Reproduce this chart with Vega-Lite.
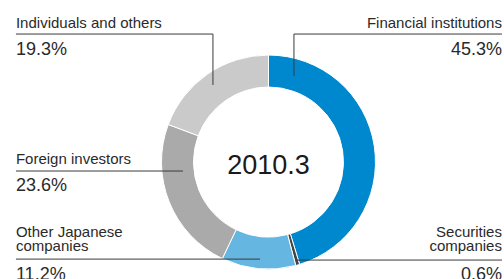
{
  "$schema": "https://vega.github.io/schema/vega-lite/v6.json",
  "width": 504,
  "height": 279,
  "autosize": {"type": "none"},
  "padding": 0,
  "background": "white",
  "config": {"view": {"stroke": null}},
  "datasets": {
    "slices": [
      {"category": "Financial institutions", "share": 45.3, "order": 1},
      {"category": "Securities companies", "share": 0.6, "order": 2},
      {"category": "Other Japanese companies", "share": 11.2, "order": 3},
      {"category": "Foreign investors", "share": 23.6, "order": 4},
      {"category": "Individuals and others", "share": 19.3, "order": 5}
    ],
    "leaders": [
      {"g": 1, "o": 1, "x": -236, "y": 119.6},
      {"g": 1, "o": 2, "x": -51.9, "y": 119.6},
      {"g": 1, "o": 3, "x": -51.9, "y": 72.0},
      {"g": 2, "o": 1, "x": 23.8, "y": 80.4},
      {"g": 2, "o": 2, "x": 23.8, "y": 119.6},
      {"g": 2, "o": 3, "x": 218.2, "y": 119.6},
      {"g": 3, "o": 1, "x": -236, "y": -8.4},
      {"g": 3, "o": 2, "x": -79.9, "y": -8.4},
      {"g": 4, "o": 1, "x": -236, "y": -90.7},
      {"g": 4, "o": 2, "x": -7.9, "y": -90.7},
      {"g": 5, "o": 1, "x": 26.6, "y": -91.6},
      {"g": 5, "o": 2, "x": 218.2, "y": -91.6}
    ],
    "labels": [
      {"text": ["Individuals and others"], "kind": "name", "x": -236, "y": 125.2, "align": "left"},
      {"text": ["19.3%"], "kind": "pct", "x": -236, "y": 100.0, "align": "left"},
      {"text": ["Financial institutions"], "kind": "name", "x": 218.2, "y": 125.2, "align": "right"},
      {"text": ["45.3%"], "kind": "pct", "x": 218.2, "y": 100.0, "align": "right"},
      {"text": ["Foreign investors"], "kind": "name", "x": -236, "y": -1.9, "align": "left"},
      {"text": ["23.6%"], "kind": "pct", "x": -236, "y": -27.1, "align": "left"},
      {"text": ["Other Japanese", "companies"], "kind": "name", "x": -236, "y": -70.1, "align": "left"},
      {"text": ["11.2%"], "kind": "pct", "x": -236, "y": -110.3, "align": "left"},
      {"text": ["Securities", "companies"], "kind": "name", "x": 218.2, "y": -70.1, "align": "right"},
      {"text": ["0.6%"], "kind": "pct", "x": 218.2, "y": -110.3, "align": "right"}
    ],
    "center": [{"text": "2010.3"}]
  },
  "layer": [
    {
      "data": {"name": "slices"},
      "mark": {"type": "arc", "outerRadius": 107, "innerRadius": 75, "stroke": "white", "strokeWidth": 1},
      "encoding": {
        "x": {"datum": 0, "type": "quantitative", "scale": {"domain": [-250.9, 220.1], "nice": false, "zero": false}, "axis": null},
        "y": {"datum": 0, "type": "quantitative", "scale": {"domain": [-109.3, 151.4], "nice": false, "zero": false}, "axis": null},
        "theta": {"field": "share", "type": "quantitative", "stack": true},
        "order": {"field": "order", "type": "quantitative"},
        "color": {
          "field": "category",
          "type": "nominal",
          "legend": null,
          "scale": {
            "domain": ["Financial institutions", "Securities companies", "Other Japanese companies", "Foreign investors", "Individuals and others"],
            "range": ["#0088cf", "#444444", "#66b6e2", "#a9aaa9", "#cacaca"]
          }
        }
      }
    },
    {
      "data": {"name": "leaders"},
      "mark": {"type": "line", "color": "#3a3a3a", "strokeWidth": 1},
      "encoding": {
        "x": {"field": "x", "type": "quantitative", "axis": null},
        "y": {"field": "y", "type": "quantitative", "axis": null},
        "detail": {"field": "g", "type": "nominal"},
        "order": {"field": "o", "type": "quantitative"}
      }
    },
    {
      "data": {"name": "labels"},
      "transform": [{"filter": "datum.kind === 'name' && datum.align === 'left'"}],
      "mark": {"type": "text", "font": "Liberation Sans", "fontSize": 15, "lineHeight": 13.5, "color": "#2a2a2a", "baseline": "alphabetic", "align": "left"},
      "encoding": {
        "x": {"field": "x", "type": "quantitative", "axis": null},
        "y": {"field": "y", "type": "quantitative", "axis": null},
        "text": {"field": "text"}
      }
    },
    {
      "data": {"name": "labels"},
      "transform": [{"filter": "datum.kind === 'name' && datum.align === 'right'"}],
      "mark": {"type": "text", "font": "Liberation Sans", "fontSize": 15, "lineHeight": 13.5, "color": "#2a2a2a", "baseline": "alphabetic", "align": "right"},
      "encoding": {
        "x": {"field": "x", "type": "quantitative", "axis": null},
        "y": {"field": "y", "type": "quantitative", "axis": null},
        "text": {"field": "text"}
      }
    },
    {
      "data": {"name": "labels"},
      "transform": [{"filter": "datum.kind === 'pct' && datum.align === 'left'"}],
      "mark": {"type": "text", "font": "Liberation Sans", "fontSize": 18, "color": "#2a2a2a", "baseline": "alphabetic", "align": "left"},
      "encoding": {
        "x": {"field": "x", "type": "quantitative", "axis": null},
        "y": {"field": "y", "type": "quantitative", "axis": null},
        "text": {"field": "text"}
      }
    },
    {
      "data": {"name": "labels"},
      "transform": [{"filter": "datum.kind === 'pct' && datum.align === 'right'"}],
      "mark": {"type": "text", "font": "Liberation Sans", "fontSize": 18, "color": "#2a2a2a", "baseline": "alphabetic", "align": "right"},
      "encoding": {
        "x": {"field": "x", "type": "quantitative", "axis": null},
        "y": {"field": "y", "type": "quantitative", "axis": null},
        "text": {"field": "text"}
      }
    },
    {
      "data": {"name": "center"},
      "mark": {"type": "text", "font": "Liberation Sans", "fontSize": 27, "color": "#1a1a1a", "baseline": "middle", "align": "center", "dy": 4},
      "encoding": {
        "x": {"datum": 0, "type": "quantitative"},
        "y": {"datum": 0, "type": "quantitative"},
        "text": {"field": "text"}
      }
    }
  ]
}
